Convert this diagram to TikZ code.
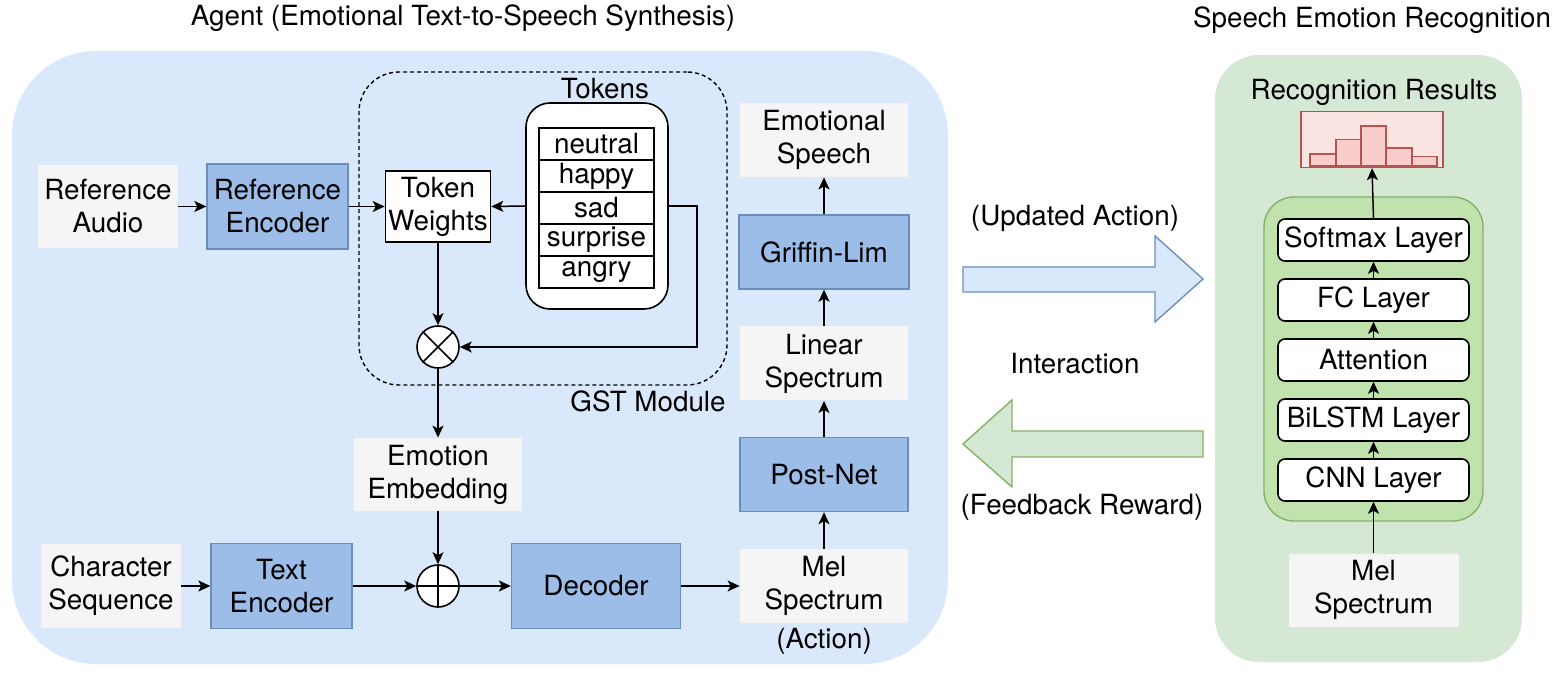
\documentclass[tikz,border=0pt]{standalone}
\usepackage{fontspec}
\setmainfont{TeX Gyre Heros}
\usetikzlibrary{arrows.meta}
\definecolor{panelblue}{HTML}{DAE8FC}
\definecolor{panelgreen}{HTML}{D5E8D4}
\definecolor{grayfill}{HTML}{F5F5F5}
\definecolor{boxblue}{HTML}{9BBDE8}
\definecolor{bluestroke}{HTML}{6C8EBF}
\definecolor{greenstroke}{HTML}{82B366}
\definecolor{innergreen}{HTML}{C0E2AC}
\definecolor{histfill}{HTML}{FBE4E2}
\definecolor{histbarfill}{HTML}{F8CECC}
\definecolor{histstroke}{HTML}{B85450}
\begin{document}
\begin{tikzpicture}[x=0.5pt,y=-0.5pt,
  every node/.style={font=\fontsize{13.9}{16.5}\selectfont, align=center},
  graybox/.style={fill=grayfill, inner sep=0},
  bluebox/.style={fill=boxblue, draw=bluestroke, line width=0.7pt, inner sep=0},
  plainbox/.style={draw, fill=white, line width=0.8pt, inner sep=0},
  tokrow/.style={draw, fill=white, line width=0.8pt, inner sep=0, minimum width=57.5pt, minimum height=16pt},
  layerbox/.style={draw, fill=white, rounded corners=3.5pt, line width=0.8pt, inner sep=0, minimum width=95.5pt, minimum height=21pt},
  opcircle/.style={circle, draw, fill=white, line width=0.8pt, inner sep=0, minimum size=21pt},
  arr/.style={-{Stealth[length=6pt,width=5.5pt,inset=1.5pt]}, line width=0.75pt},
  blockblue/.style={fill=panelblue, draw=bluestroke, line width=0.7pt, line join=miter},
  blockgreen/.style={fill=panelgreen, draw=greenstroke, line width=0.7pt, line join=miter},
  histbar/.style={fill=histbarfill, draw=histstroke, line width=0.7pt}
]
\useasboundingbox (0,0) rectangle (1564,678);

% panels
\node[fill=panelblue, rounded corners=42pt, minimum width=468pt, minimum height=306.5pt, inner sep=0] (agent) at (480,357.5) {};
\node (agenttitle) at (463,18) {Agent (Emotional Text-to-Speech Synthesis)};
\node[fill=panelgreen, rounded corners=22pt, minimum width=153.5pt, minimum height=303.5pt, inner sep=0] (ser) at (1368.5,358.5) {};
\node (sertitle) at (1372,20) {Speech Emotion Recognition};

% GST module
\node[draw, dash pattern=on 2pt off 1.5pt, rounded corners=20pt, minimum width=184pt, minimum height=156.5pt, line width=0.7pt, inner sep=0] (gst) at (543,228.5) {};
\node (gstlabel) at (648,401) {GST Module};

% tokens
\node (toklabel) at (605,89) {Tokens};
\node[draw, fill=white, rounded corners=12pt, minimum width=71pt, minimum height=103pt, line width=0.8pt, inner sep=0] (tokbox) at (597,206) {};
\node[tokrow] (t1) at (596.5,144) {neutral};
\node[tokrow] (t2) at (596.5,176) {happy};
\node[tokrow] (t3) at (596.5,208) {sad};
\node[tokrow] (t4) at (596.5,240) {surprise};
\node[tokrow] (t5) at (596.5,272) {angry};

\node[plainbox, minimum width=52.5pt, minimum height=35.5pt] (tokw) at (438,206.5) {Token\\Weights};
\node[opcircle] (ot) at (438,347) {};
\draw[line width=0.8pt] (ot.north west) -- (ot.south east) (ot.north east) -- (ot.south west);

% left nodes
\node[graybox, minimum width=70pt, minimum height=41.5pt] (refaudio) at (108,206.5) {Reference\\Audio};
\node[bluebox, minimum width=70.5pt, minimum height=42.5pt] (refenc) at (277.5,206.5) {Reference\\Encoder};
\node[graybox, minimum width=84pt, minimum height=36.5pt] (emb) at (438,474.5) {Emotion\\Embedding};
\node[graybox, minimum width=70pt, minimum height=42pt] (charseq) at (111,586) {Character\\Sequence};
\node[bluebox, minimum width=70.5pt, minimum height=42.5pt] (textenc) at (281.5,586) {Text\\Encoder};
\node[opcircle] (op) at (438,586) {};
\draw[line width=0.8pt] (op.north) -- (op.south) (op.west) -- (op.east);
\node[bluebox, minimum width=84.5pt, minimum height=42.5pt] (dec) at (596,586) {Decoder};

% right column of agent
\node[graybox, minimum width=84pt, minimum height=37pt] (mel1) at (824,586) {Mel\\Spectrum};
\node (action) at (824,641) {(Action)};
\node[bluebox, minimum width=84pt, minimum height=37pt] (postnet) at (824,474.5) {Post-Net};
\node[graybox, minimum width=84pt, minimum height=37pt] (linear) at (824,363.5) {Linear\\Spectrum};
\node[bluebox, minimum width=85pt, minimum height=37pt] (griffin) at (824,252) {Griffin-Lim};
\node[graybox, minimum width=84pt, minimum height=37pt] (emospeech) at (824,140) {Emotional\\Speech};

% agent connectors
\draw[arr] (refaudio.east) -- (refenc.west);
\draw[arr] (refenc.east) -- (tokw.west);
\draw[arr] (tokbox.west) -- (tokw.east);
\coordinate (bend) at (697,206);
\draw[arr] (tokbox.east) -- (bend) |- (ot.east);
\draw[arr] (tokw.south) -- (ot.north);
\draw[arr] (ot.south) -- (emb.north);
\draw[arr] (emb.south) -- (op.north);
\draw[arr] (charseq.east) -- (textenc.west);
\draw[arr] (textenc.east) -- (op.west);
\draw[arr] (op.east) -- (dec.west);
\draw[arr] (dec.east) -- (mel1.west);
\draw[arr] (mel1.north) -- (postnet.south);
\draw[arr] (postnet.north) -- (linear.south);
\draw[arr] (linear.north) -- (griffin.south);
\draw[arr] (griffin.north) -- (emospeech.south);

% block arrows and labels
\draw[blockblue] (963,267) -- (1155,267) -- (1155,236) -- (1203,279) -- (1155,322) -- (1155,292) -- (963,292) -- cycle;
\draw[blockgreen] (1203,431) -- (1012,431) -- (1012,400) -- (963,444) -- (1012,487) -- (1012,457) -- (1203,457) -- cycle;
\node (upd) at (1075,218) {(Updated Action)};
\node (inter) at (1075,364) {Interaction};
\node (fb) at (1082,507) {(Feedback Reward)};

% speech emotion recognition
\node (rrlabel) at (1374,92) {Recognition Results};
\node[draw=histstroke, fill=histfill, minimum width=71pt, minimum height=28pt, inner sep=0, line width=0.7pt] (hist) at (1372,139.5) {};
\draw[histbar] (1310,166) rectangle (1336,154);
\draw[histbar] (1336,166) rectangle (1361,139.5);
\draw[histbar] (1361,166) rectangle (1386,126);
\draw[histbar] (1386,166) rectangle (1412,148);
\draw[histbar] (1412,166) rectangle (1437,156.5);

\node[draw=greenstroke, fill=innergreen, rounded corners=15pt, minimum width=109.5pt, minimum height=162pt, line width=0.7pt, inner sep=0] (stack) at (1373.5,359) {};
\node[layerbox] (softmax) at (1373.5,240) {Softmax Layer};
\node[layerbox] (fc) at (1373.5,300) {FC Layer};
\node[layerbox] (att) at (1373.5,360) {Attention};
\node[layerbox] (bilstm) at (1373.5,420) {BiLSTM Layer};
\node[layerbox] (cnn) at (1373.5,480) {CNN Layer};
\node[graybox, minimum width=85pt, minimum height=36.5pt] (mel2) at (1373.5,590) {Mel\\Spectrum};

\draw[arr] (mel2.north) -- (cnn.south);
\draw[arr] (cnn.north) -- (bilstm.south);
\draw[arr] (bilstm.north) -- (att.south);
\draw[arr] (att.north) -- (fc.south);
\draw[arr] (fc.north) -- (softmax.south);
\draw[arr] (softmax.north) -- (hist.south);
\end{tikzpicture}
\end{document}
